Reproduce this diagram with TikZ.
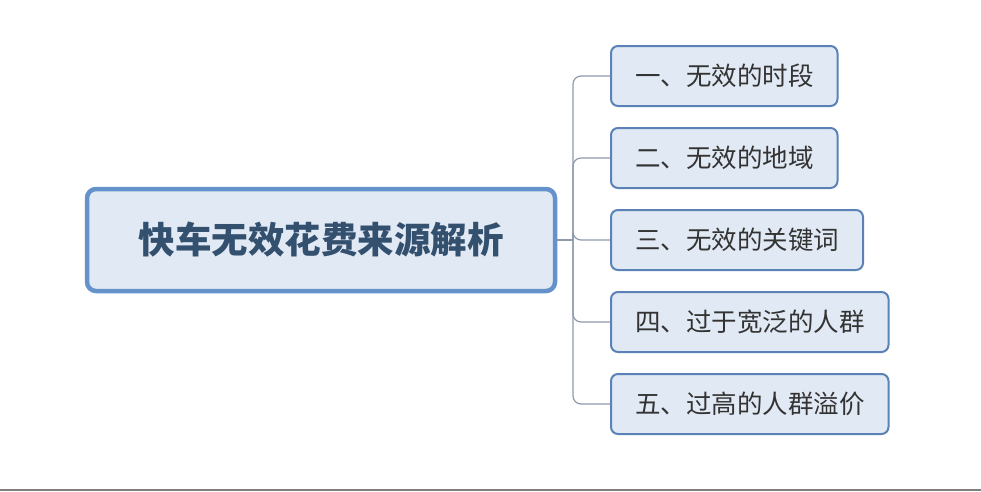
\documentclass[tikz,border=0pt]{standalone}
\usepackage{fontspec}
\newfontfamily\cjk{Noto Sans CJK SC}
\definecolor{boxfill}{HTML}{E1E9F4}
\definecolor{boxline}{HTML}{5B82B6}
\definecolor{rootline}{HTML}{6592CB}
\definecolor{roottext}{HTML}{34506F}
\definecolor{wire}{HTML}{8C9AAC}
\begin{document}
\begin{tikzpicture}[x=1pt, y=-1pt,
    root/.style={draw=rootline, line width=4.5pt, fill=boxfill, rounded corners=9pt,
        minimum width=468pt, minimum height=102pt, text=roottext, font=\cjk\bfseries\fontsize{36.5}{40}\selectfont},
    leaf/.style={draw=boxline, line width=2pt, fill=boxfill, rounded corners=7pt, anchor=west,
        minimum height=60pt, inner xsep=24pt, text=black!80, font=\cjk\fontsize{25.5}{30}\selectfont},
    wire/.style={draw=wire, line width=1.2pt, rounded corners=8pt}]
            \useasboundingbox (0,0) rectangle (981,491);
            \node[root] (r) at (321, 240) {快车无效花费来源解析};
            \node[leaf] (b1) at (610, 76) {一、无效的时段};
            \node[leaf] (b2) at (610, 158) {二、无效的地域};
            \node[leaf] (b3) at (610, 240) {三、无效的关键词};
            \node[leaf] (b4) at (610, 322) {四、过于宽泛的人群};
            \node[leaf] (b5) at (610, 404) {五、过高的人群溢价};
            \coordinate (fork) at (573, 240);
            \draw[wire] (r) -- (fork);
            \foreach \b in {b1,b2,b3,b4,b5}
                \draw[wire] (fork) |- (\b.west);
            \draw[gray, line width=2pt] (0,490) -- (981,490);
            \end{tikzpicture}
\end{document}
